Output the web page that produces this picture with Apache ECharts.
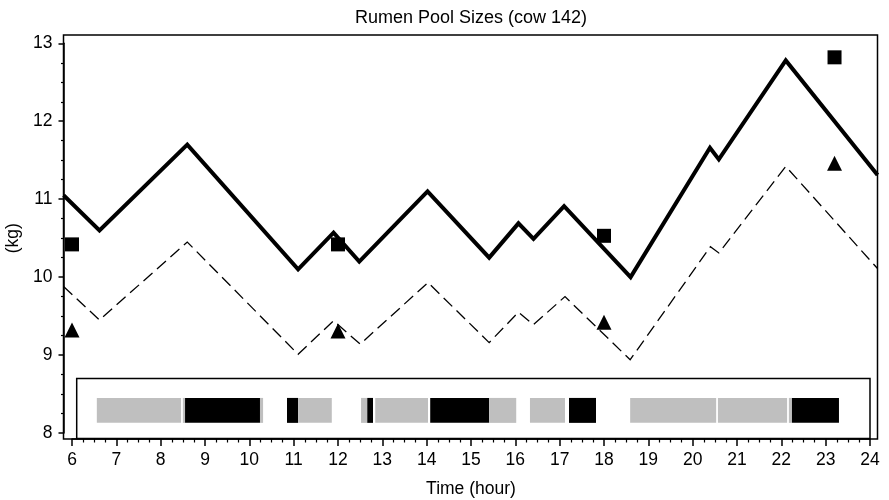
<!DOCTYPE html>
<html><head><meta charset="utf-8">
<script src="https://cdn.jsdelivr.net/npm/echarts@6/dist/echarts.min.js"></script>
<style>html,body{margin:0;padding:0;background:#fff}#c{width:889px;height:500px}</style>
</head><body><div id="c"></div>
<script>
// ---------- data ----------
const chartTitle = 'Rumen Pool Sizes (cow 142)';
const xAxisName = 'Time (hour)';
const yAxisName = '(kg)';
const xTickRange = [6, 24];   // hours, labelled every 1
const yTickRange = [8, 13];   // kg, labelled every 1

// model prediction, total pool (solid) [hour, kg]
const solidLine = [[5.81,11.05],[6.62,10.60],[8.60,11.70],[11.10,10.10],[11.90,10.57],[12.48,10.20],[14.02,11.10],[15.41,10.25],[16.07,10.69],[16.41,10.49],[17.10,10.91],[18.60,10.00],[20.39,11.66],[20.59,11.51],[22.10,12.78],[24.17,11.31]];
// model prediction, second pool (dashed) [hour, kg]
const dashedLine = [[5.81,9.88],[6.62,9.45],[8.60,10.45],[11.10,9.01],[11.90,9.44],[12.50,9.14],[14.03,9.93],[15.41,9.16],[16.07,9.55],[16.41,9.39],[17.12,9.75],[18.59,8.94],[20.40,10.39],[20.59,10.31],[22.10,11.42],[24.17,10.11]];
// observations
const squarePoints = [[6,10.42],[12,10.42],[18,10.53],[23.2,12.82]];
const trianglePoints = [[6,9.32],[12,9.31],[18,9.42],[23.2,11.46]];
// activity periods [start hour, end hour, kind] kind 0 = grey, 1 = black
const activityBars = [[6.56,8.46,0],[8.50,8.55,0],[8.55,10.24,1],[10.24,10.31,0],[10.85,11.10,1],[11.10,11.86,0],[12.52,12.66,0],[12.66,12.79,1],[12.84,14.03,0],[14.08,15.41,1],[15.41,16.02,0],[16.33,17.12,0],[17.21,17.82,1],[18.59,20.53,0],[20.57,22.13,0],[22.17,22.24,0],[22.24,23.30,1]];

// ---------- layout (pixels / style) ----------
const LAY = { frameL:63.5, frameR:877.5, frameT:35, frameB:439, x0:72, x1:870, yTop:43.3, yBot:433, W:889, H:500 };
const BAR_TOP = 8.45, BAR_BOTTOM = 8.13;       // activity strip band (kg units)
const BOX = { left:6.106, right:24.0, top:8.70, bottom:7.93 };
const FONT = 'Liberation Sans, Arial, Helvetica, sans-serif';
const FS = 17.5;

const pxX = (LAY.x1 - LAY.x0) / (xTickRange[1] - xTickRange[0]);
const pxY = (LAY.yBot - LAY.yTop) / (yTickRange[1] - yTickRange[0]);
const dataXMin = xTickRange[0] - (LAY.x0 - LAY.frameL) / pxX;
const dataXMax = xTickRange[1] + (LAY.frameR - LAY.x1) / pxX;
const dataYMax = yTickRange[1] + (LAY.yTop - LAY.frameT) / pxY;
const dataYMin = yTickRange[0] - (LAY.frameB - LAY.yBot) / pxY;

const chart = echarts.init(document.getElementById('c'), null, {renderer:'canvas'});
const axisStyle = {color:'#000', width:1.5};
chart.setOption({
  animation:false,
  backgroundColor:'#fff',
  textStyle:{fontFamily:FONT},
  title:{text:chartTitle, left:471, top:9.5, padding:0, textAlign:'center',
    textStyle:{fontFamily:FONT, fontSize:18, fontWeight:'normal', color:'#000'}},
  grid:[
    {left:LAY.frameL, right:LAY.W-LAY.frameR, top:LAY.frameT, bottom:LAY.H-LAY.frameB,
      containLabel:false, outerBoundsMode:'none',
      show:true, borderColor:'#000', borderWidth:1.5, backgroundColor:'transparent'},
    {left:LAY.x0, right:LAY.W-LAY.x1, top:LAY.yTop, bottom:LAY.H-LAY.yBot,
      containLabel:false, outerBoundsMode:'none'}
  ],
  xAxis:[
    {gridIndex:0, type:'value', min:dataXMin, max:dataXMax, show:false},
    {gridIndex:1, type:'value', position:'bottom', min:xTickRange[0], max:xTickRange[1], interval:1, offset:LAY.frameB-LAY.yBot,
      axisLine:{show:true, onZero:false, lineStyle:axisStyle},
      axisTick:{show:true, inside:false, length:7, lineStyle:axisStyle},
      minorTick:{show:true, splitNumber:4, length:3.5, lineStyle:{color:'#000', width:1.2}},
      splitLine:{show:false},
      axisLabel:{color:'#000', fontSize:FS, fontFamily:FONT, margin:12, inside:false},
      name:xAxisName, nameLocation:'middle', nameGap:41,
      nameTextStyle:{color:'#000', fontSize:FS, fontFamily:FONT}}
  ],
  yAxis:[
    {gridIndex:0, type:'value', min:dataYMin, max:dataYMax, show:false},
    {gridIndex:1, type:'value', position:'left', min:yTickRange[0], max:yTickRange[1], interval:1, offset:LAY.x0-LAY.frameL,
      axisLine:{show:true, onZero:false, lineStyle:axisStyle},
      axisTick:{show:true, inside:false, length:5, lineStyle:axisStyle},
      minorTick:{show:true, splitNumber:4, length:2.5, lineStyle:{color:'#000', width:1.2}},
      splitLine:{show:false},
      axisLabel:{color:'#000', fontSize:FS, fontFamily:FONT, margin:11, inside:false},
      name:yAxisName, nameLocation:'middle', nameGap:38,
      nameTextStyle:{color:'#000', fontSize:FS, fontFamily:FONT}}
  ],
  series:[
    {type:'custom', xAxisIndex:0, yAxisIndex:0, data:[[0]], silent:true, z:2,
      renderItem:function(params, api){
        const a = api.coord([BOX.left, BOX.top]);
        const b = api.coord([BOX.right, BOX.bottom]);
        return {type:'rect', shape:{x:a[0], y:a[1], width:b[0]-a[0], height:b[1]-a[1]},
          style:{fill:'#fff', stroke:'#000', lineWidth:1.5}};
      }},
    {type:'custom', xAxisIndex:0, yAxisIndex:0, data:activityBars, silent:true, z:3,
      encode:{x:[0,1]},
      renderItem:function(params, api){
        const a = api.coord([api.value(0), BAR_TOP]);
        const b = api.coord([api.value(1), BAR_BOTTOM]);
        return {type:'rect', shape:{x:a[0], y:a[1], width:b[0]-a[0], height:b[1]-a[1]},
          style:{fill: api.value(2) ? '#000' : '#bfbfbf'}};
      }},
    {type:'line', xAxisIndex:0, yAxisIndex:0, data:dashedLine, symbol:'none', z:4,
      lineStyle:{color:'#000', width:1.3, type:[12,6], join:'miter'}},
    {type:'line', xAxisIndex:0, yAxisIndex:0, data:solidLine, symbol:'none', z:5,
      lineStyle:{color:'#000', width:4, join:'miter', miterLimit:10}},
    {type:'scatter', xAxisIndex:0, yAxisIndex:0, data:squarePoints, symbol:'rect', symbolSize:14, z:6,
      itemStyle:{color:'#000', opacity:1}},
    {type:'scatter', xAxisIndex:0, yAxisIndex:0, data:trianglePoints, symbol:'triangle', symbolSize:15, z:6,
      itemStyle:{color:'#000', opacity:1}}
  ]
});
</script></body></html>
